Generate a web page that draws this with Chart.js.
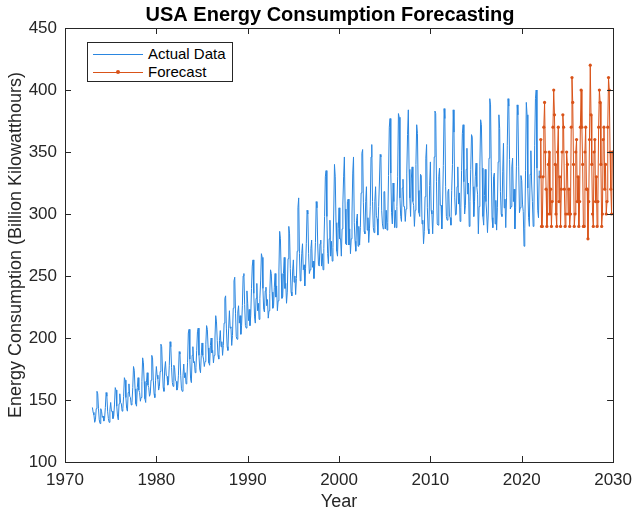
<!DOCTYPE html>
<html>
<head>
<meta charset="utf-8">
<script src="https://cdn.jsdelivr.net/npm/chart.js@4/dist/chart.umd.min.js"></script>
<style>
body{margin:0;background:#fff}
#wrap{position:relative;width:640px;height:508px}
#legend{position:absolute;left:87px;top:42px;width:144px;height:38px;border:1px solid #262626;background:#fff;font:15px "Liberation Sans",Arial,sans-serif;color:#000}
.row{position:absolute;left:0;height:18px;line-height:18px}
.sample{position:absolute;left:5px;top:9px;width:50px;height:0;border-top:1px solid}
.dot{position:absolute;left:23px;top:-3px;width:4px;height:4px;border-radius:2px}
.lab{position:absolute;left:60px;top:0;white-space:nowrap}
</style>
</head>
<body>
<div id="wrap">
<canvas id="energyChart" width="640" height="508"></canvas>
<div id="legend"></div>
</div>
<script>

// monthly values, billion kWh, Jan..Dec per row
let actualStartYear = 1973
let actual1970s = [
144,140,138,132,134,143,157,155,143,134,131,143,
141,136,137,133,135,144,156,153,141,135,132,142,
148,141,141,135,137,146,160,158,145,137,134,147,
155,148,147,141,143,153,168,166,152,143,141,156,
163,153,152,146,148,160,177,174,159,147,145,160,
168,158,156,149,152,165,184,180,165,151,148,164,
172,162,160,153,155,166,186,184,166,155,152,166
]
let actual1980s = [
177,170,167,158,161,173,195,193,175,160,157,175,
181,170,169,162,164,178,197,193,176,164,161,178,
176,166,165,158,160,170,189,187,170,159,157,170,
179,168,172,163,166,180,204,207,183,167,164,186,
193,180,181,172,176,190,205,208,186,175,172,186,
196,186,183,177,181,195,210,207,192,180,178,194,
200,188,190,180,186,200,218,213,198,186,183,198,
206,193,197,186,194,212,232,234,208,193,190,208,
222,208,209,194,202,224,246,249,220,201,199,221,
226,212,218,203,210,226,250,252,227,210,208,238
]
let actual1990s = [
228,214,223,210,218,240,258,263,236,217,212,232,
244,222,228,215,232,246,268,265,240,223,221,238,
241,226,231,216,222,236,255,252,237,224,226,241,
252,233,242,222,230,254,286,280,252,232,233,252,
265,240,244,228,237,264,290,284,256,237,234,254,
263,245,250,235,248,270,305,313,268,246,250,268,
276,255,259,242,256,276,303,300,268,252,255,272,
279,257,262,248,258,277,310,305,275,259,258,276,
279,258,268,255,272,298,330,335,298,268,260,280,
295,266,278,262,273,300,340,330,293,270,266,288
]
let actual2000s = [
305,280,280,266,288,308,330,346,304,276,275,310,
312,275,288,268,280,300,333,346,293,278,270,295,
300,274,290,275,289,317,349,352,309,286,284,310,
322,287,297,277,288,306,346,356,310,289,285,310,
322,299,296,283,306,325,348,346,303,292,288,318,
318,288,303,287,293,331,370,377,333,301,292,325,
310,289,303,289,306,330,381,378,313,298,294,321,
328,306,306,294,304,333,364,384,336,313,298,329,
338,310,307,290,303,340,372,365,319,301,298,332,
331,292,295,276,286,314,345,356,305,288,284,323
]
let actual2010s = [
342,303,300,284,303,346,383,381,326,292,291,330,
337,307,307,288,308,339,385,377,322,298,295,318,
320,298,297,291,319,340,384,366,313,299,300,322,
338,308,317,294,305,335,365,372,326,300,307,336,
353,316,325,290,310,336,364,362,322,298,310,330,
341,322,316,284,306,338,376,372,337,298,291,315,
336,310,300,285,300,345,393,388,334,297,289,330,
333,292,311,287,305,342,380,369,318,300,298,334,
357,305,312,289,313,355,393,387,344,304,306,338,
345,310,320,288,305,338,388,380,338,301,305,331
]
let actual2020s = [
327,308,302,274,288,335,390,380,321,297,290,332,
351,325,310,290,304,355,393,400,337,303,297,335
]

let forecastStartYear = 2022
let forecast2022to2025 = [
330,360,290,290,330,370,390,350,320,290,300,340,
350,300,320,290,310,370,400,380,340,300,290,350,
370,310,330,290,320,350,380,370,320,290,300,350,
340,300,320,290,300,370,410,390,340,290,300,350
]
let forecast2026to2029 = [
360,310,330,290,310,370,400,370,340,290,290,350,
370,320,320,280,310,360,420,380,340,300,290,350,
360,310,330,290,310,370,400,390,340,290,300,360,
370,320,340,300,310,370,410,400,350,320,300,350
]

let xTicks = [1970,1980,1990,2000,2010,2020,2030]
let yTicks = [100,150,200,250,300,350,400,450]

let chartTitle = "USA Energy Consumption Forecasting"
let xTitle = "Year"
let yTitle = "Energy Consumption (Billion Kilowatthours)"

let fontFamily = '"Liberation Sans", Arial, Helvetica, sans-serif'
let axisColor = "#262626"

function toPoints(values, startYear){
  return values.map((v,i)=>({x:startYear + i/12, y:v}))
}

let actualValues = [].concat(actual1970s, actual1980s, actual1990s, actual2000s, actual2010s, actual2020s)
let forecastValues = [].concat(forecast2022to2025, forecast2026to2029)

// MATLAB style box with inward ticks on all four sides
let boxPlugin = {
  id:"box",
  afterDraw(chart){
    let ctx = chart.ctx
    let a = chart.chartArea
    let sx = chart.scales.x
    let sy = chart.scales.y
    ctx.save()
    ctx.strokeStyle = axisColor
    ctx.lineWidth = 1
    ctx.strokeRect(Math.round(a.left)+0.5, Math.round(a.top)+0.5, Math.round(a.right-a.left), Math.round(a.bottom-a.top))
    ctx.beginPath()
    xTicks.forEach(v=>{
      let px = Math.round(sx.getPixelForValue(v))+0.5
      ctx.moveTo(px, a.bottom); ctx.lineTo(px, a.bottom-6)
      ctx.moveTo(px, a.top); ctx.lineTo(px, a.top+6)
    })
    yTicks.forEach(v=>{
      let py = Math.round(sy.getPixelForValue(v))+0.5
      ctx.moveTo(a.left, py); ctx.lineTo(a.left+6, py)
      ctx.moveTo(a.right, py); ctx.lineTo(a.right-6, py)
    })
    ctx.stroke()
    ctx.fillStyle = "#000"
    ctx.font = "bold 20px " + fontFamily
    ctx.textAlign = "center"
    ctx.textBaseline = "middle"
    ctx.fillText(chartTitle, 330, 15)
    ctx.restore()
  }
}

let chart = new Chart(document.getElementById("energyChart"),{
  type:"line",
  data:{
    datasets:[
      {
        label:"Actual Data",
        data:toPoints(actualValues, actualStartYear),
        borderColor:"#2a86e0",
        borderWidth:1,
        pointRadius:0,
        tension:0
      },
      {
        label:"Forecast",
        data:toPoints(forecastValues, forecastStartYear),
        borderColor:"#d95319",
        backgroundColor:"#d95319",
        borderWidth:1,
        pointRadius:1.6,
        pointBorderWidth:0,
        pointBackgroundColor:"#d95319",
        tension:0
      }
    ]
  },
  options:{
    responsive:false,
    animation:false,
    events:[],
    layout:{padding:{top:28,left:5,right:24,bottom:0}},
    plugins:{
      legend:{display:false},
      title:{display:false},
      tooltip:{enabled:false}
    },
    scales:{
      x:{
        type:"linear",
        min:1970,
        max:2030,
        afterFit:function(s){ s.height = 46 },
        afterBuildTicks:function(s){ s.ticks = xTicks.map(v=>({value:v})) },
        grid:{display:false,drawTicks:false},
        border:{display:false},
        ticks:{padding:8,color:axisColor,font:{size:17,family:fontFamily},callback:v=>String(v),maxRotation:0,autoSkip:false},
        title:{display:true,text:xTitle,color:axisColor,font:{size:18,family:fontFamily},padding:{top:0,bottom:-5}}
      },
      y:{
        min:100,
        max:450,
        afterFit:function(s){ s.width = 60 },
        afterBuildTicks:function(s){ s.ticks = yTicks.map(v=>({value:v})) },
        grid:{display:false,drawTicks:false},
        border:{display:false},
        ticks:{padding:8,color:axisColor,font:{size:17,family:fontFamily},autoSkip:false},
        title:{display:true,text:yTitle,color:axisColor,font:{size:18,family:fontFamily},padding:{top:0,bottom:0}}
      }
    }
  },
  plugins:[boxPlugin]
})

// legend box inside the axes, built from the datasets
let legend = document.getElementById("legend")
chart.data.datasets.forEach((d,i)=>{
  let row = document.createElement("div")
  row.className = "row"
  row.style.top = (2 + i*18) + "px"
  row.style.width = "144px"
  let dot = d.pointRadius ? `<span class="dot" style="background:${d.borderColor}"></span>` : ""
  row.innerHTML = `<span class="sample" style="border-color:${d.borderColor}">${dot}</span><span class="lab">${d.label}</span>`
  legend.appendChild(row)
})

</script>
</body>
</html>
